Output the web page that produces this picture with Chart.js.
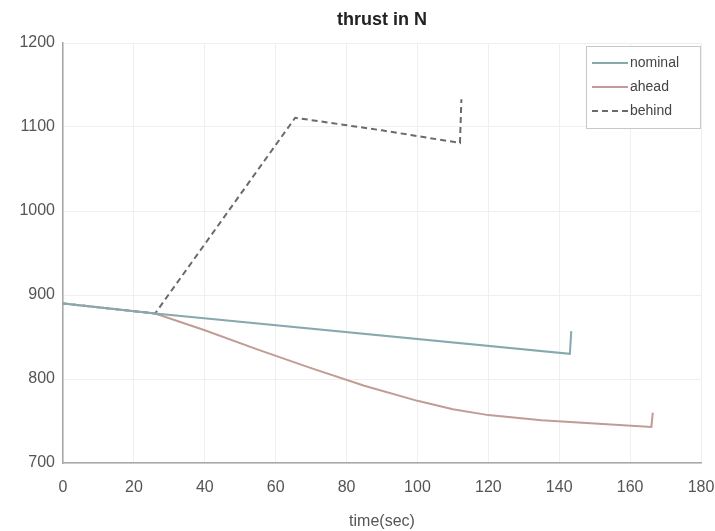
<!DOCTYPE html>
<html>
<head>
<meta charset="utf-8">
<script src="https://cdn.jsdelivr.net/npm/chart.js@4/dist/chart.umd.min.js"></script>
<style>
    html, body { margin: 0; padding: 0; background: #fff; }
    #wrap { width: 715px; height: 531px; }
</style>
</head>
<body>
<div id="wrap"><canvas id="thrustChart" width="715" height="531"></canvas></div>
<script>
// thrust profiles
const nominalTime   = [0, 26, 143, 143.4];
const nominalThrust = [890, 878, 830, 857];

const aheadTime   = [0, 26, 40, 55, 70, 85, 100, 110, 120, 135, 150, 166, 166.4];
const aheadThrust = [890, 878, 858, 835, 813, 792, 774, 764, 757, 751, 747, 743, 760];

const behindTime   = [0, 26, 65.5, 90, 112, 112.4];
const behindThrust = [890, 878, 1111, 1096, 1081, 1133];

const xTicks = [0, 20, 40, 60, 80, 100, 120, 140, 160, 180];
const yTicks = [700, 800, 900, 1000, 1100, 1200];

const toPoints = (t, v) => t.map((x, i) => ({ x: x, y: v[i] }));

const FONT = "'Liberation Sans', Arial, sans-serif";

// title centred over the axes and a boxed legend in the top right corner
const decorations = {
    id: 'decorations',
    afterDraw(chart) {
        const ctx = chart.ctx;
        const area = chart.chartArea;
        ctx.save();
        ctx.fillStyle = '#222';
        ctx.font = 'bold 18px ' + FONT;
        ctx.textAlign = 'center';
        ctx.textBaseline = 'middle';
        ctx.fillText('thrust in N', (area.left + area.right) / 2, 20);

        const bx = 586, by = 46, bw = 114, bh = 82;
        ctx.fillStyle = '#fff';
        ctx.fillRect(bx, by, bw, bh);
        ctx.strokeStyle = '#c8c8c8';
        ctx.lineWidth = 1;
        ctx.strokeRect(bx + 0.5, by + 0.5, bw, bh);

        ctx.font = '14px ' + FONT;
        ctx.textAlign = 'left';
        chart.data.datasets.forEach((ds, i) => {
            const y = by + 17 + i * 24;
            ctx.strokeStyle = ds.borderColor;
            ctx.lineWidth = 2;
            ctx.setLineDash(ds.borderDash || []);
            ctx.beginPath();
            ctx.moveTo(bx + 6, y);
            ctx.lineTo(bx + 42, y);
            ctx.stroke();
            ctx.setLineDash([]);
            ctx.fillStyle = '#444';
            ctx.fillText(ds.label, bx + 44, y);
        });
        ctx.restore();
    }
};

new Chart(document.getElementById('thrustChart'), {
    type: 'line',
    data: {
        datasets: [
            {
                label: 'nominal',
                data: toPoints(nominalTime, nominalThrust),
                borderColor: '#86a9ae',
                borderWidth: 2
            },
            {
                label: 'ahead',
                data: toPoints(aheadTime, aheadThrust),
                borderColor: '#c09c95',
                borderWidth: 2
            },
            {
                label: 'behind',
                data: toPoints(behindTime, behindThrust),
                borderColor: '#6a6a6a',
                borderDash: [6, 4],
                borderWidth: 2
            }
        ]
    },
    options: {
        responsive: false,
        animation: false,
        layout: { padding: { top: 43, right: 14, left: 0, bottom: 0 } },
        elements: {
            line: { tension: 0 },
            point: { radius: 0 }
        },
        plugins: {
            legend: { display: false },
            title: { display: false },
            tooltip: { enabled: false }
        },
        scales: {
            x: {
                type: 'linear',
                min: 0,
                max: 180,
                afterBuildTicks: s => { s.ticks = xTicks.map(v => ({ value: v })); },
                afterFit: s => {
                    s.height = 68;
                    s.paddingLeft = 0;
                    s.paddingRight = 0;
                },
                grid: { color: '#efefef', drawTicks: false },
                border: { color: '#a8a8a8', width: 1.5 },
                ticks: {
                    color: '#555',
                    font: { family: FONT, size: 16 },
                    padding: 15,
                    maxRotation: 0,
                    autoSkip: false,
                    callback: v => String(v)
                },
                title: {
                    display: true,
                    text: 'time(sec)',
                    color: '#555',
                    font: { family: FONT, size: 16 },
                    padding: { top: 4, bottom: 0 }
                }
            },
            y: {
                type: 'linear',
                min: 700,
                max: 1200,
                afterBuildTicks: s => { s.ticks = yTicks.map(v => ({ value: v })); },
                afterFit: s => {
                    s.width = 63;
                    s.paddingTop = 0;
                    s.paddingBottom = 0;
                },
                grid: { color: '#efefef', drawTicks: false },
                border: { color: '#a8a8a8', width: 1.5 },
                ticks: {
                    color: '#555',
                    font: { family: FONT, size: 16 },
                    padding: 8,
                    callback: v => String(v)
                }
            }
        }
    },
    plugins: [decorations]
});
</script>
</body>
</html>
